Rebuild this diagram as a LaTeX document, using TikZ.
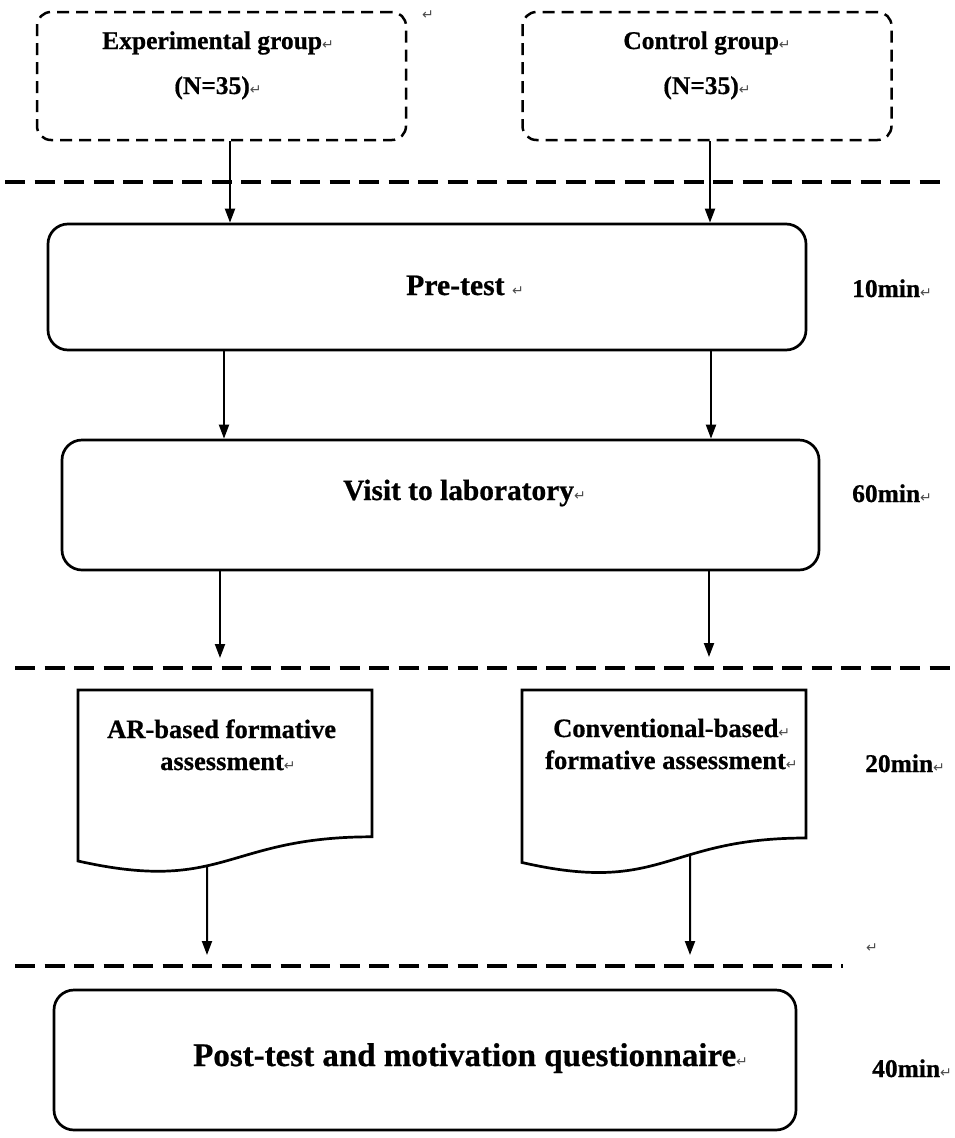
\documentclass[tikz,border=0pt]{standalone}
\usepackage{fontspec}
\setmainfont{Liberation Serif}
\newfontfamily\hb{Liberation Serif Bold}[FakeBold=0.7]
\newfontfamily\symfont{DejaVu Sans}
\usetikzlibrary{arrows.meta,intersections}
\newcommand\retmark{{\symfont\fontsize{14}{14}\selectfont\textcolor{black!70}{↵}}}
\newcommand\fsz[1]{\hb\fontsize{#1}{#1}\selectfont}
\begin{document}
\begin{tikzpicture}[x=1pt,y=-1pt,
  grp/.style={draw, line width=2.5pt, dash pattern=on 12pt off 7pt, rounded corners=14pt, minimum width=369pt, minimum height=128pt, inner sep=0pt},
  stage/.style={draw, line width=2.7pt, rounded corners=20pt, inner sep=0pt},
  sepline/.style={line width=3.2pt, dash pattern=on 20pt off 9.5pt},
  doc/.style={draw, line width=2.7pt, line join=miter},
  arr/.style={line width=2pt, -{Triangle[length=14pt,width=10pt]}},
  txt/.style={inner sep=0pt, anchor=base west, font=\fsz{25.5}},
  dtxt/.style={inner sep=0pt, anchor=base west, font=\fsz{26.5}},
  big/.style={inner sep=0pt, anchor=base west, font=\fsz{#1}},
]
\useasboundingbox (0,0) rectangle (955,1138);

% group boxes
\node[grp] (exp) at (221.5,76) {};
\node[grp] (ctl) at (707,76) {};
\node[txt, anchor=base] (exptxt) at (218,49) {Experimental group\retmark};
\node[txt, anchor=base] (expn) at (218,94) {(N=35)\retmark};
\node[txt, anchor=base] (ctltxt) at (707,49) {Control group\retmark};
\node[txt, anchor=base] (ctln) at (707,94) {(N=35)\retmark};
\node[inner sep=0pt] (stray1) at (428,15) {\retmark};

% separators
\draw[sepline] (5,182) -- (945,182);
\draw[sepline] (15,668) -- (955,668);
\draw[sepline] (15,966) -- (843,966);
\node[inner sep=0pt] (stray2) at (872,948) {\retmark};

% stage boxes
\node[stage, minimum width=758pt, minimum height=126pt] (pre) at (427,287) {};
\node[big=29.7] (pretxt) at (406,295) {Pre-test \retmark};
\node[txt] (t10) at (852,297) {10min\retmark};

\node[stage, minimum width=757pt, minimum height=130pt] (visit) at (440.5,505) {};
\node[big=29.4] (vistxt) at (343,500) {Visit to laboratory\retmark};
\node[txt] (t60) at (852,502) {60min\retmark};

% documents
\path[doc, name path=arwave] (78,690) -- (372,690) -- (372,836.8) .. controls (225,836.8) and (225,894) .. (78,861) -- cycle;
\path[doc, name path=cvwave] (522,690) -- (806,690) -- (806,838) .. controls (664,838) and (664,895) .. (522,862.5) -- cycle;
\node[dtxt] (ar1) at (107,738) {AR-based formative};
\node[dtxt] (ar2) at (160,770) {assessment\retmark};
\node[dtxt] (cv1) at (553,737) {Conventional-based\retmark};
\node[dtxt] (cv2) at (545,769) {formative assessment\retmark};
\node[txt] (t20) at (865,772) {20min\retmark};

\node[stage, minimum width=742pt, minimum height=140pt] (post) at (425,1060) {};
\node[big=33] (posttxt) at (193,1066) {Post-test and motivation questionnaire\retmark};
\node[txt] (t40) at (872,1077) {40min\retmark};

% guides for connectors
\coordinate (xa) at (230,0);
\coordinate (xb) at (710,0);
\coordinate (xc) at (224,0);
\coordinate (xd) at (711,0);
\coordinate (xe) at (220,0);
\coordinate (xf) at (709,0);
\coordinate (e5) at (220,658);
\coordinate (e6) at (709,657);
\coordinate (e7) at (207,955);
\coordinate (e8) at (690,955);
\path[name path=arv] (207,800) -- (207,950);
\path[name path=cvv] (690,800) -- (690,950);
\path[name intersections={of=arwave and arv, by=arout}];
\path[name intersections={of=cvwave and cvv, by=cvout}];

% connectors
\draw[arr] (exp.south -| xa) -- (pre.north -| xa);
\draw[arr] (ctl.south -| xb) -- (pre.north -| xb);
\draw[arr] (pre.south -| xc) -- (visit.north -| xc);
\draw[arr] (pre.south -| xd) -- (visit.north -| xd);
\draw[arr] (visit.south -| xe) -- (e5);
\draw[arr] (visit.south -| xf) -- (e6);
\draw[arr] (arout) -- (e7);
\draw[arr] (cvout) -- (e8);
\end{tikzpicture}
\end{document}
